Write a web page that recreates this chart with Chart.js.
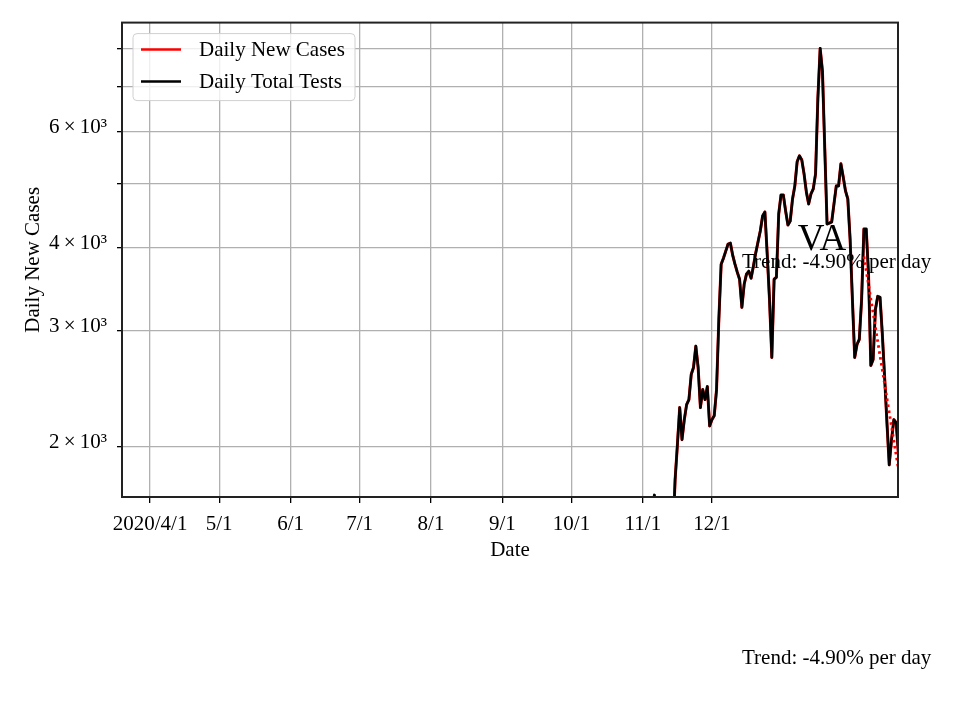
<!DOCTYPE html>
<html>
<head>
<meta charset="utf-8">
<script src="https://cdn.jsdelivr.net/npm/chart.js@4.4.1/dist/chart.umd.min.js"></script>
<style>
  body { margin: 0; background: #fff; }
  canvas { display: block; }
</style>
</head>
<body>
<canvas id="vaChart" width="960" height="720"></canvas>
<script>
// x values are days counted from 2020-04-01
var tickDays = [0, 30, 61, 91, 122, 153, 183, 214, 244];
var tickLabels = ['2020/4/1', '5/1', '6/1', '7/1', '8/1', '9/1', '10/1', '11/1', '12/1'];

var yTickValues = [2000, 3000, 4000, 5000, 6000, 7000, 8000];
var yTickLabels = ['2\u2009\u00d7\u200910\u00b3', '3\u2009\u00d7\u200910\u00b3', '4\u2009\u00d7\u200910\u00b3', '',
                   '6\u2009\u00d7\u200910\u00b3', '', ''];

// daily values starting 2020-11-01 (day 214)
var firstDay = 214;
var newCases = [
    1250, 1300, 1200, 1350, 1400, 1690, 1380, 1300, 1350, 1400,
    1300, 1450, 1400, 1450, 1782, 2014, 2292, 2050, 2198, 2316,
    2357, 2572, 2636, 2839, 2636, 2292, 2441, 2357, 2467, 2150,
    2198, 2229, 2441, 3117, 3777, 3857, 3953, 4051, 4065, 3898,
    3777, 3673, 3584, 3250, 3522, 3648, 3686, 3597, 3751, 3925,
    4079, 4239, 4467, 4530, 3912, 3342, 2729, 3584, 3609, 4498,
    4807, 4807, 4546, 4329, 4390, 4741, 4961, 5395, 5509, 5433,
    5173, 4858, 4659, 4824, 4909, 5173, 6724, 8007, 7389, 5645,
    4344, 4359, 4375, 4659, 4961, 4961, 5357, 5119, 4875, 4741,
    4122, 3342, 2729, 2856, 2907, 3342, 4269, 4269, 3648, 2654,
    2710, 3227, 3377, 3366, 2958, 2545, 2175, 1878, 2050, 2198,
    2175, 1950
];
// total tests line sits right on top of the cases line
var totalTests = newCases.slice();

// fitted trend, two end points
var trendDays = [310, 325];
var trendValues = [3880, 1850];
var trendText = 'Trend: -4.90% per day';
var stateName = 'VA';

var serif = "'Liberation Serif', 'Times New Roman', serif";

function toPoints(values) {
    return values.map(function (v, i) {
        return { x: firstDay + i, y: v };
    });
}

var trendPoints = trendDays.map(function (d, i) {
    return { x: d, y: trendValues[i] };
});

// frame, legend box and text labels in matplotlib style
var extras = {
    id: 'extras',
    afterDatasetsDraw: function (chart) {
        var ctx = chart.ctx;
        var a = chart.chartArea;
        ctx.save();
        ctx.strokeStyle = '#222';
        ctx.lineWidth = 2;
        ctx.strokeRect(a.left, a.top, a.right - a.left, a.bottom - a.top);
        ctx.restore();
    },
    afterDraw: function (chart) {
        var ctx = chart.ctx;
        var a = chart.chartArea;
        ctx.save();

        // legend
        var bx = a.left + 11, by = a.top + 11, bw = 222, bh = 67;
        ctx.beginPath();
        ctx.roundRect(bx, by, bw, bh, 4);
        ctx.fillStyle = 'rgba(255,255,255,0.8)';
        ctx.fill();
        ctx.strokeStyle = '#d0d0d0';
        ctx.lineWidth = 1;
        ctx.stroke();

        ctx.font = '21px ' + serif;
        ctx.textBaseline = 'middle';
        ctx.textAlign = 'left';
        chart.data.datasets.slice(0, 2).forEach(function (ds, i) {
            var ly = by + 16 + i * 32;
            ctx.beginPath();
            ctx.moveTo(bx + 8, ly);
            ctx.lineTo(bx + 48, ly);
            ctx.strokeStyle = ds.borderColor;
            ctx.lineWidth = 2.5;
            ctx.stroke();
            ctx.fillStyle = '#000';
            ctx.fillText(ds.label, bx + 66, ly + 1);
        });

        // state name and trend
        ctx.fillStyle = '#000';
        ctx.font = '37px ' + serif;
        ctx.textAlign = 'center';
        ctx.textBaseline = 'alphabetic';
        ctx.fillText(stateName, 822, 250);

        ctx.font = '21px ' + serif;
        ctx.textAlign = 'left';
        ctx.textBaseline = 'middle';
        ctx.fillText(trendText, 742, 262);
        ctx.fillText(trendText, 742, 658);

        // axis titles
        ctx.textAlign = 'center';
        ctx.fillText('Date', (a.left + a.right) / 2, 550);
        ctx.translate(33, (a.top + a.bottom) / 2);
        ctx.rotate(-Math.PI / 2);
        ctx.fillText('Daily New Cases', 0, 0);
        ctx.restore();
    }
};

var ctx = document.getElementById('vaChart').getContext('2d');
var vaChart = new Chart(ctx, {
    type: 'line',
    data: {
        datasets: [{
            label: 'Daily New Cases',
            data: toPoints(newCases),
            borderColor: '#ff0000',
            borderWidth: 3,
            borderJoinStyle: 'round',
            pointRadius: 0,
            order: 2
        }, {
            label: 'Daily Total Tests',
            data: toPoints(totalTests),
            borderColor: '#000000',
            borderWidth: 2.6,
            borderJoinStyle: 'round',
            pointRadius: 0,
            order: 1
        }, {
            label: 'trend',
            data: trendPoints,
            borderColor: '#ff0000',
            borderWidth: 2.8,
            borderDash: [2.5, 3.5],
            pointRadius: 0,
            order: 0
        }]
    },
    options: {
        responsive: false,
        animation: false,
        devicePixelRatio: 1,
        layout: { padding: { left: 0, top: 17, right: 62, bottom: 0 } },
        plugins: {
            legend: { display: false },
            tooltip: { enabled: false }
        },
        scales: {
            x: {
                type: 'linear',
                min: -12.2,
                max: 324.8,
                afterBuildTicks: function (scale) {
                    scale.ticks = tickDays.map(function (d) { return { value: d }; });
                },
                afterFit: function (scale) { scale.height = 223; },
                ticks: {
                    autoSkip: false,
                    maxRotation: 0,
                    padding: 9,
                    color: '#000',
                    font: { family: serif, size: 21 },
                    callback: function (value) {
                        var i = tickDays.indexOf(value);
                        return i >= 0 ? tickLabels[i] : '';
                    }
                },
                grid: { color: '#b0b0b0', lineWidth: 1.3, tickLength: 6, tickColor: '#000' },
                border: { display: false }
            },
            y: {
                type: 'logarithmic',
                min: 1679,
                max: 8760,
                afterBuildTicks: function (scale) {
                    scale.ticks = yTickValues.map(function (v) { return { value: v }; });
                },
                afterFit: function (scale) { scale.width = 122; },
                ticks: {
                    autoSkip: false,
                    padding: 10,
                    labelOffset: -4,
                    color: '#000',
                    font: { family: serif, size: 21 },
                    callback: function (value) {
                        var i = yTickValues.indexOf(value);
                        return i >= 0 ? yTickLabels[i] : '';
                    }
                },
                grid: { color: '#b0b0b0', lineWidth: 1.3, tickLength: 5, tickColor: '#000' },
                border: { display: false }
            }
        }
    },
    plugins: [extras]
});
</script>
</body>
</html>
